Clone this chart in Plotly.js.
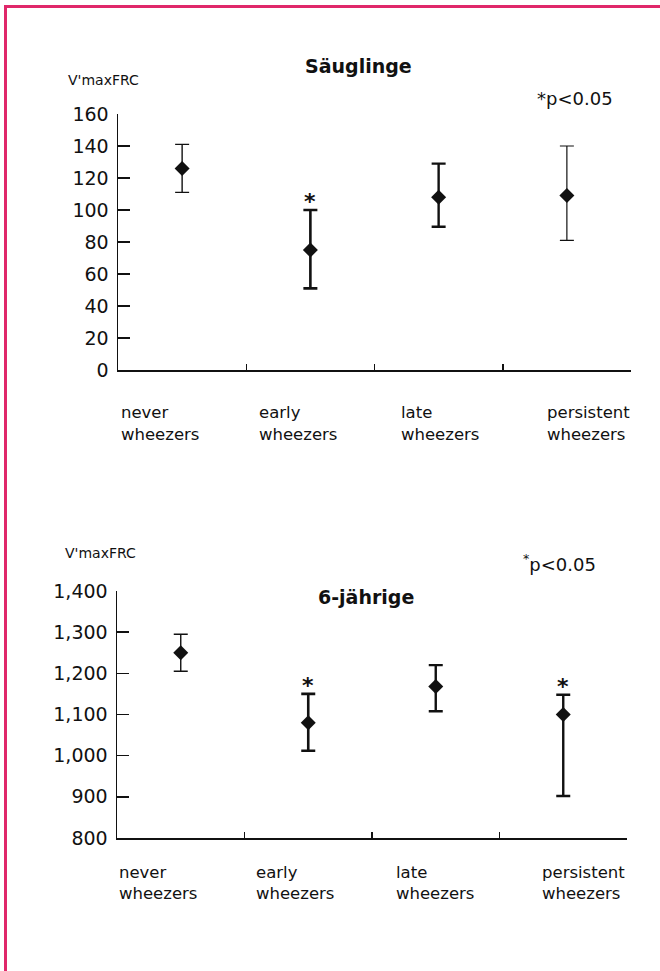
<!DOCTYPE html>
<html>
<head>
<meta charset="utf-8">
<script src="https://cdn.plot.ly/plotly-3.0.1.min.js"></script>
<style>
  html, body { margin: 0; padding: 0; background: #fff; }
  #chart { width: 660px; height: 971px; }
</style>
</head>
<body>
<div id="chart"></div>
<script>
// ---- data ----
const categories = ['never wheezers', 'early wheezers', 'late wheezers', 'persistent wheezers'];

// Säuglinge (infants)
const infantMean  = [126, 75, 108, 109];
const infantUpper = [141, 100, 129, 140];
const infantLower = [111, 51, 89.5, 81];
const infantSig   = [false, true, false, false];

// 6-jährige (6-year-olds)
const childMean  = [1250, 1080, 1168, 1100];
const childUpper = [1295, 1150, 1220, 1148];
const childLower = [1205, 1012, 1108, 902];
const childSig   = [false, true, false, true];

const infantTicks = [0, 20, 40, 60, 80, 100, 120, 140, 160];
const childTicks  = [800, 900, 1000, 1100, 1200, 1300, 1400];

// ---- styles ----
const INK = '#111111';
const infantBarWidth = [1.4, 2.6, 2.4, 1.2];
const childBarWidth  = [1.4, 2.6, 2.4, 2.4];

const traces = [];
function addSeries(mean, upper, lower, widths, xa, ya) {
  for (let i = 0; i < categories.length; i++) {
    traces.push({
      type: 'scatter', mode: 'markers',
      x: [categories[i]], y: [mean[i]],
      xaxis: xa, yaxis: ya,
      marker: { symbol: 'diamond', size: 11.5, color: INK },
      error_y: {
        type: 'data', symmetric: false,
        array: [upper[i] - mean[i]], arrayminus: [mean[i] - lower[i]],
        thickness: widths[i], width: 7, color: INK
      },
      hoverinfo: 'skip'
    });
  }
}
addSeries(infantMean, infantUpper, infantLower, infantBarWidth, 'x', 'y');
addSeries(childMean, childUpper, childLower, childBarWidth, 'x2', 'y2');

const W = 660, H = 971;
const px = v => v / W;
const py = v => 1 - v / H;

const annotations = [];
function txt(text, x, y, size, opts) {
  annotations.push(Object.assign({
    text: text, xref: 'paper', yref: 'paper', x: px(x), y: py(y),
    xanchor: 'left', yanchor: 'middle', showarrow: false,
    font: { family: 'DejaVu Sans', size: size, color: INK }
  }, opts || {}));
}
// header texts
txt("V'maxFRC", 66, 80, 14);
txt('<b>Säuglinge</b>', 358, 66, 19, { xanchor: 'center' });
txt('*p&lt;0.05', 535, 98, 18);
txt("V'maxFRC", 63, 553, 14);
txt('<b>6-jährige</b>', 366, 597, 19, { xanchor: 'center' });
txt('<sup>*</sup>p&lt;0.05', 521, 563, 18);

// category labels (two lines, left aligned)
const labelStartsTop = [119, 257, 399, 545];
const labelStartsBot = [117, 254, 394, 540];
categories.forEach((c, i) => {
  const parts = c.split(' ');
  txt(parts[0], labelStartsTop[i], 412, 16.5);
  txt(parts[1], labelStartsTop[i], 434, 16.5);
  txt(parts[0], labelStartsBot[i], 872, 16.5);
  txt(parts[1], labelStartsBot[i], 893, 16.5);
});

// significance stars
function stars(sig, upper, xa, ya) {
  sig.forEach((s, i) => {
    if (!s) return;
    annotations.push({
      text: '<b>*</b>', xref: xa, yref: ya, x: categories[i], y: upper[i],
      xanchor: 'center', yanchor: 'bottom', yshift: -6, showarrow: false,
      font: { family: 'DejaVu Sans', size: 22, color: INK }
    });
  });
}
stars(infantSig, infantUpper, 'x', 'y');
stars(childSig, childUpper, 'x2', 'y2');

const xCommon = {
  type: 'category', categoryorder: 'array', categoryarray: categories,
  range: [-0.5, 3.5], tickson: 'boundaries', ticks: 'inside', ticklen: 6,
  tickwidth: 1.5, tickcolor: INK, showline: true, linecolor: INK, linewidth: 1.5,
  showticklabels: false, showgrid: false, zeroline: false, fixedrange: true
};
const yCommon = {
  ticks: 'inside', ticklen: 12, tickwidth: 1.5, tickcolor: INK,
  showline: true, linecolor: INK, linewidth: 1.5, showgrid: false, zeroline: false,
  tickfont: { family: 'DejaVu Sans', size: 19, color: INK }, ticklabelstandoff: 4,
  fixedrange: true
};

const layout = {
  width: W, height: H,
  margin: { l: 0, r: 0, t: 0, b: 0 },
  paper_bgcolor: '#fff', plot_bgcolor: '#fff',
  showlegend: false,
  font: { family: 'DejaVu Sans', color: INK },
  xaxis: Object.assign({}, xCommon, { domain: [px(118), px(631)], anchor: 'y' }),
  yaxis: Object.assign({}, yCommon, {
    domain: [py(370), py(114)], anchor: 'x', range: [0, 160],
    tickmode: 'array', tickvals: infantTicks
  }),
  xaxis2: Object.assign({}, xCommon, { domain: [px(117), px(627)], anchor: 'y2' }),
  yaxis2: Object.assign({}, yCommon, {
    domain: [py(838), py(591)], anchor: 'x2', range: [800, 1400],
    tickmode: 'array', tickvals: childTicks, tickformat: ','
  }),
  annotations: annotations,
  shapes: [
    { type: 'line', xref: 'paper', yref: 'paper', x0: px(4), x1: 1, y0: py(6.5), y1: py(6.5),
      line: { color: '#e0286a', width: 3 } },
    { type: 'line', xref: 'paper', yref: 'paper', x0: px(5.5), x1: px(5.5), y0: py(5), y1: 0,
      line: { color: '#e0286a', width: 3 } }
  ]
};

Plotly.newPlot('chart', traces, layout, { staticPlot: true, displayModeBar: false });
</script>
</body>
</html>
